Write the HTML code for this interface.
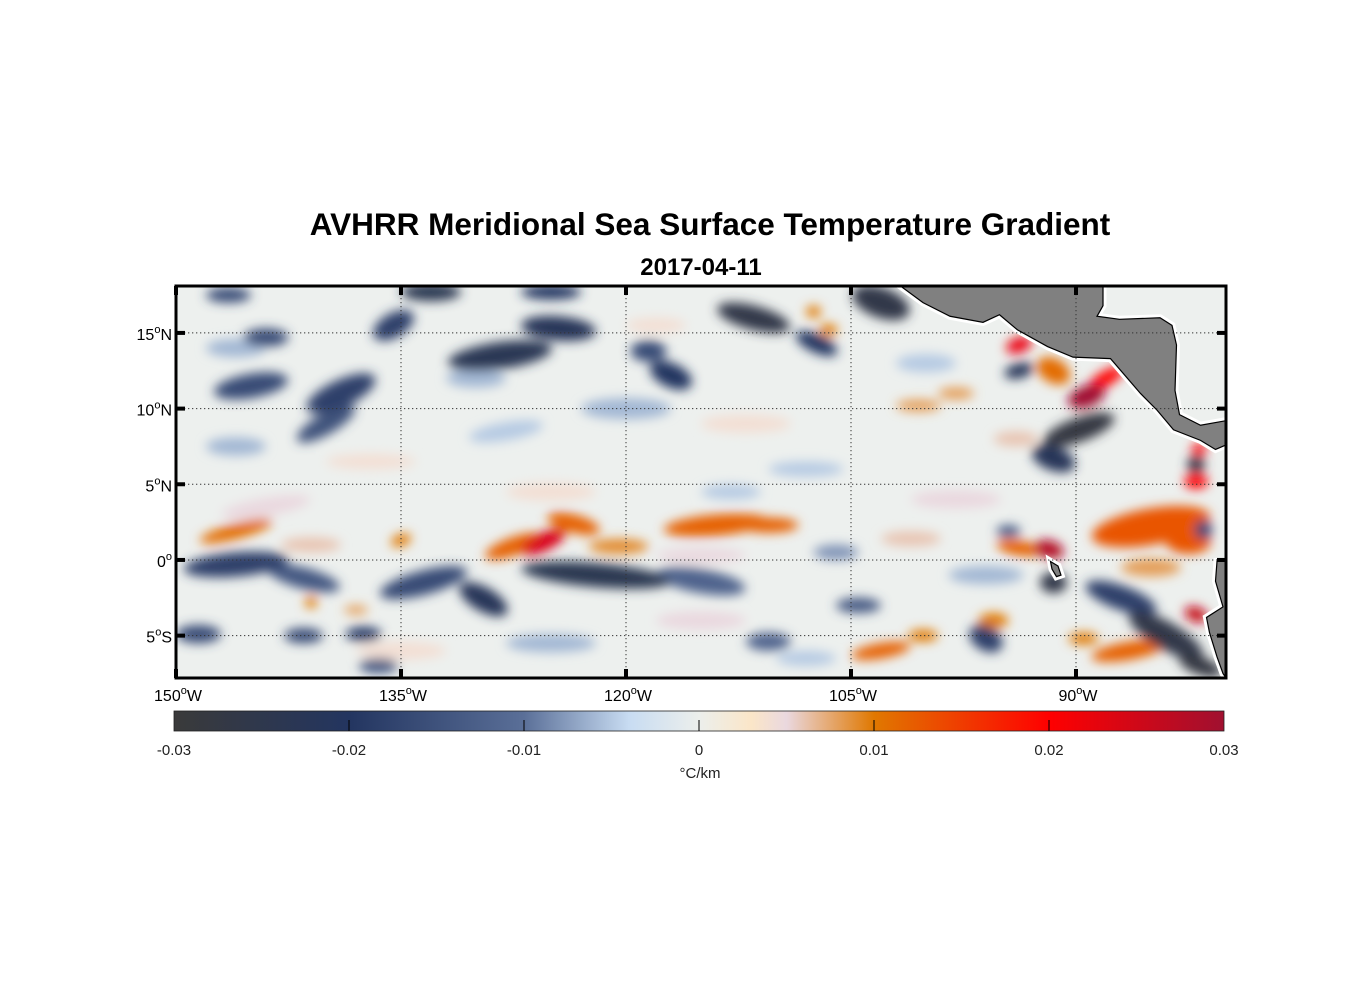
<!DOCTYPE html>
<html><head><meta charset="utf-8"><style>
body{margin:0;background:#fff;}
svg{display:block;font-family:"Liberation Sans",Arial,sans-serif;}
</style></head><body>
<svg id="chart" width="1356" height="1000" viewBox="0 0 1356 1000" xmlns="http://www.w3.org/2000/svg">
<defs>
<clipPath id="plotclip"><rect x="176" y="286" width="1050" height="392"/></clipPath>
<filter id="blur" x="-50%" y="-50%" width="200%" height="200%"><feGaussianBlur stdDeviation="5.5"/></filter>
<linearGradient id="cbgrad" x1="0" x2="1" y1="0" y2="0"></linearGradient>
</defs>
<text x="710" y="235" text-anchor="middle" font-size="31.5" font-weight="bold">AVHRR Meridional Sea Surface Temperature Gradient</text>
<text x="701" y="275" text-anchor="middle" font-size="24" font-weight="bold">2017-04-11</text>
<g id="plot" clip-path="url(#plotclip)">
<rect x="176" y="286" width="1050" height="392" fill="#edf0ee"/>
<g id="blobs" filter="url(#blur)"></g>
<g id="land"></g>
<g id="grid"></g>
</g>
<rect x="176" y="286" width="1050" height="392" fill="none" stroke="#000" stroke-width="3"/>
<g id="ticks"></g>
<g id="colorbar"></g>
</svg>
<script>
const NS="http://www.w3.org/2000/svg";
const lonMin=-150, lonMax=-80, latMin=-7.8, latMax=18.1;
const X0=176,X1=1226,Y0=286,Y1=678;
const lonTicks=[-150,-135,-120,-105,-90];
const lonTickLabels=["150","135","120","105","90"];
const latTicks=[15,10,5,0,-5];
const latTickLabels=["15","10","5","0","5"];
const latTickSuffix=["N","N","N","","S"];
// gradient features (lon, lat, value °C/km, half-size lon deg, half-size lat deg, tilt)
const blobLon=[-146,-137,-128,-120,-112,-108,-125,-113,-144,-135,-125,-115,-108,-98,-96,-100,-130,-118,-146,-85,-115,-106,
 -146,-141.5,-133.5,-129.5,-122,-115,-128.4,-139,-145,-140,-144,-135.5,-146.5,-133,-124.5,-117,-118.5,-111.5,-107.3,-103,-125,-89.8,-91.5,-93.8,-91.5,-84,-81.7,-82,-87,-96,-104.5,-94.5,-81.5,-110.5,-141.5,-137.5,-136.5,-148.5,
 -125.5,-127.5,-123.5,-120.5,-114,-110.5,-146,-141,-89.3,-88,-91.5,-93.8,-91.8,-93.8,-85,-82.5,-82,-81.8,-82,-86.5,-89.5,-103,-100.2,-95.5,-106.5,-107.5,-100.5,-98,-94,-101,-141,-138,-135];
const blobLat=[7.5,6.5,8.5,10,9,6,4.5,4.5,3.5,-6,-5.5,-4,-6.5,4,-1,13,12,15.5,14,-0.5,0.3,0.5,
 -0.3,-1.2,-1.5,-2.6,-1.0,-1.4,13.5,11.0,11.5,9.0,14.7,15.5,17.5,17.7,15.3,12.2,13.8,16.0,14.3,17.0,17.7,8.6,6.7,12.5,-1.5,-5.0,-7.0,6.3,-2.5,-5.2,-3,1.9,2.0,-5.4,-5,-4.9,-7.0,-4.9,
 1.2,0.9,2.4,0.9,2.3,2.3,1.9,1,10.8,12,12.5,14.2,0.7,0.8,2.2,1.2,5.2,7.3,-3.6,-6.0,-5.2,-6.0,-5,-4,15.2,16.4,10.2,11.0,8.0,1.4,-2.8,-3.3,1.3];
const blobVal=[-0.006,0.004,-0.005,-0.006,0.004,-0.005,0.004,-0.005,0.005,0.004,-0.006,0.005,-0.005,0.005,-0.006,-0.005,-0.006,0.004,-0.006,0.008,0.005,-0.008,
 -0.018,-0.014,-0.016,-0.022,-0.024,-0.012,-0.023,-0.018,-0.016,-0.015,-0.016,-0.018,-0.016,-0.024,-0.022,-0.02,-0.016,-0.026,-0.02,-0.026,-0.02,-0.028,-0.022,-0.022,-0.026,-0.026,-0.028,-0.026,-0.018,-0.018,-0.014,-0.014,-0.016,-0.012,-0.016,-0.018,-0.014,-0.016,
 0.024,0.012,0.012,0.009,0.012,0.012,0.011,0.006,0.03,0.02,0.011,0.022,0.028,0.012,0.013,0.013,0.02,0.02,0.026,0.012,0.01,0.012,0.01,0.01,0.01,0.01,0.008,0.008,0.006,0.006,0.01,0.008,0.01];
const blobRx=[2,3,2.5,3,3,2.5,3,2,3,3,3,3,2,3,2.5,2,2,2,2,2,3,1.5,
 3.5,2.5,3,1.8,5,3,3.5,2.5,2.5,2.2,1.5,1.5,1.5,2,2.5,1.5,1.2,2.5,1.5,2,2,2.5,1.5,1,0.9,2.8,1.5,0.6,2.5,1.2,1.5,0.8,0.6,1.5,1.3,1.2,1.3,1.5,
 1.6,2,1.8,2,3.5,2,2.5,2,1.3,1.3,1.2,0.9,1,1.5,4,1.5,0.8,0.5,0.8,2.5,1,2,1,1,0.6,0.5,1.5,1.2,1.5,2,0.4,0.8,0.7];
const blobRy=[0.6,0.5,0.6,0.7,0.6,0.5,0.6,0.5,0.6,0.6,0.6,0.6,0.5,0.6,0.6,0.6,0.6,0.5,0.6,0.6,0.5,0.5,
 0.8,0.7,0.8,0.8,0.8,0.8,0.9,0.9,0.8,0.7,0.6,0.8,0.5,0.6,0.8,0.8,0.7,0.8,0.6,1,0.5,0.8,0.8,0.5,0.7,0.9,0.6,0.6,0.8,0.8,0.5,0.4,0.6,0.6,0.5,0.5,0.5,0.6,
 0.6,0.6,0.6,0.5,0.7,0.5,0.5,0.5,0.7,0.5,0.8,0.5,0.6,0.5,1.2,0.8,0.5,0.4,0.5,0.6,0.4,0.5,0.4,0.5,0.4,0.4,0.4,0.4,0.5,0.5,0.4,0.3,0.4];
const blobTilt=[0,0,-10,0,0,0,0,0,-10,0,0,0,0,0,0,0,0,0,0,0,0,0,
 -5,15,-15,30,5,10,-8,-25,-10,-30,0,-30,0,0,5,25,0,15,25,20,0,-20,20,-15,0,30,20,0,20,30,0,0,0,0,0,0,0,0,
 -25,-20,15,0,-5,0,-15,0,-20,-30,30,-20,15,10,-10,0,0,0,20,-10,0,-10,0,0,0,0,0,0,0,0,0,0,-20];
const cmapVals=[-0.03,-0.02,-0.01,-0.004,0,0.003,0.005,0.01,0.02,0.03];
const cmapCols=["#3a3a3a","#233560","#5a6f98","#c8dcf2","#ecefec","#fbe6c8","#ead8df","#e07800","#ff0000","#a01030"];
const camLon=[-101.7,-100.2,-98.4,-96.2,-95.1,-93.9,-91.9,-90.2,-87.7,-85.7,-84.6,-83.5,-81.7,-80.7,-80,-80,-81.7,-83.1,-83.4,-83.3,-83.6,-84.4,-87.1,-88.6,-88.2,-88.2];
const camLat=[18.1,17.0,16.1,15.7,16.2,15.2,14.1,13.4,13.3,11.0,9.9,8.6,7.9,7.3,7.6,9.2,8.9,9.6,11.2,14.2,15.5,16.0,15.9,16.1,16.8,18.1];
const saLon=[-80,-80.6,-80.7,-80.2,-81.3,-81.1,-80.6,-80.2,-80];
const saLat=[-0.1,-0.1,-1.4,-3.1,-3.8,-4.8,-6.4,-7.5,-7.8];
const galLon=[-91.7,-91.2,-91.0,-91.3,-91.6];
const galLat=[-0.1,-0.4,-1.0,-1.1,-0.6];

const xS=lon=>X0+(lon-lonMin)/(lonMax-lonMin)*(X1-X0);
const yS=lat=>Y0+(latMax-lat)/(latMax-latMin)*(Y1-Y0);
const pxLon=(X1-X0)/(lonMax-lonMin), pxLat=(Y1-Y0)/(latMax-latMin);
function hex(c){return [1,3,5].map(i=>parseInt(c.substr(i,2),16));}
function cmap(v){
  v=Math.max(cmapVals[0],Math.min(cmapVals[cmapVals.length-1],v));
  for(let i=0;i<cmapVals.length-1;i++){
    if(v<=cmapVals[i+1]){const t=(v-cmapVals[i])/(cmapVals[i+1]-cmapVals[i]);
      const a=hex(cmapCols[i]),b=hex(cmapCols[i+1]);
      return "rgb("+a.map((x,k)=>Math.round(x+(b[k]-x)*t)).join(",")+")";}
  }
  return cmapCols[cmapCols.length-1];
}
const blobG=document.getElementById('blobs');
const order=blobVal.map((v,i)=>i).sort((a,b)=>Math.abs(blobVal[a])-Math.abs(blobVal[b]));
order.forEach(i=>{
  const cx=xS(blobLon[i]), cy=yS(blobLat[i]);
  const e=document.createElementNS(NS,'ellipse');
  
  
  e.setAttribute('cx',cx);e.setAttribute('cy',cy);
  e.setAttribute('rx',blobRx[i]*pxLon);e.setAttribute('ry',blobRy[i]*pxLat);
  e.setAttribute('transform','rotate('+blobTilt[i]+' '+cx+' '+cy+')');
  e.setAttribute('fill',cmap(blobVal[i]));
  blobG.appendChild(e);
});
const landG=document.getElementById('land');
function poly(lons,lats,name){
  const pts=lons.map((l,i)=>xS(l)+","+yS(lats[i])).join(" ");
  const w=document.createElementNS(NS,'polygon');
  w.setAttribute('points',pts);w.setAttribute('fill','none');w.setAttribute('stroke','#fff');w.setAttribute('stroke-width','7');
  landG.appendChild(w);
  const p=document.createElementNS(NS,'polygon');
  
  
  p.setAttribute('points',pts);p.setAttribute('fill','#808080');p.setAttribute('stroke','#000');p.setAttribute('stroke-width','1.2');
  landG.appendChild(p);
}
poly(camLon,camLat,'central-america-land');
poly(saLon.concat([-79,-79]),saLat.concat([-8,-0.1]),'south-america-land');
poly(galLon,galLat,'galapagos-land');
const gridG=document.getElementById('grid');
lonTicks.forEach(l=>{const ln=document.createElementNS(NS,'line');
  
  
  ln.setAttribute('x1',xS(l));ln.setAttribute('x2',xS(l));ln.setAttribute('y1',Y0);ln.setAttribute('y2',Y1);
  ln.setAttribute('stroke','#333');ln.setAttribute('stroke-dasharray','1.3 2.7');gridG.appendChild(ln);});
latTicks.forEach(l=>{const ln=document.createElementNS(NS,'line');
  
  
  ln.setAttribute('x1',X0);ln.setAttribute('x2',X1);ln.setAttribute('y1',yS(l));ln.setAttribute('y2',yS(l));
  ln.setAttribute('stroke','#333');ln.setAttribute('stroke-dasharray','1.3 2.7');gridG.appendChild(ln);});
const tG=document.getElementById('ticks');
function addLine(x1,y1,x2,y2,w,name){const ln=document.createElementNS(NS,'line');
  
  
  ln.setAttribute('x1',x1);ln.setAttribute('y1',y1);ln.setAttribute('x2',x2);ln.setAttribute('y2',y2);
  ln.setAttribute('stroke','#000');ln.setAttribute('stroke-width',w);tG.appendChild(ln);}
lonTicks.forEach((l,i)=>{const x=xS(l);
  addLine(x,Y0,x,Y0+9,4,'x-tick');addLine(x,Y1,x,Y1-9,4,'x-tick');
  const t=document.createElementNS(NS,'text');
  
  
  t.setAttribute('x',x+2);t.setAttribute('y',Y1+23);t.setAttribute('text-anchor','middle');t.setAttribute('font-size','16');
  t.innerHTML=lonTickLabels[i]+'<tspan font-size="11" dy="-7">o</tspan><tspan dy="7">W</tspan>';
  tG.appendChild(t);});
latTicks.forEach((l,i)=>{const y=yS(l);
  addLine(X0,y,X0+9,y,4,'y-tick');addLine(X1,y,X1-9,y,4,'y-tick');
  const t=document.createElementNS(NS,'text');
  
  
  t.setAttribute('x',X0-4);t.setAttribute('y',y+7);t.setAttribute('text-anchor','end');t.setAttribute('font-size','16');
  t.innerHTML=latTickLabels[i]+'<tspan font-size="11" dy="-7">o</tspan><tspan dy="7">'+latTickSuffix[i]+'</tspan>';
  tG.appendChild(t);});
const cbTicks=[-0.03,-0.02,-0.01,0,0.01,0.02,0.03];
const cbLabels=["-0.03","-0.02","-0.01","0","0.01","0.02","0.03"];
const CB0=174,CB1=1224,CBy=711,CBh=20;
const grad=document.getElementById('cbgrad');
cmapVals.forEach((v,i)=>{const s=document.createElementNS(NS,'stop');
  s.setAttribute('offset',(v-cmapVals[0])/(cmapVals[cmapVals.length-1]-cmapVals[0]));s.setAttribute('stop-color',cmapCols[i]);grad.appendChild(s);});
const cb=document.getElementById('colorbar');
const r=document.createElementNS(NS,'rect');


r.setAttribute('x',CB0);r.setAttribute('y',CBy);r.setAttribute('width',CB1-CB0);r.setAttribute('height',CBh);
r.setAttribute('fill','url(#cbgrad)');r.setAttribute('stroke','#222');r.setAttribute('stroke-width','0.8');cb.appendChild(r);
const cbX=v=>CB0+(v-cbTicks[0])/(cbTicks[cbTicks.length-1]-cbTicks[0])*(CB1-CB0);
cbTicks.forEach((v,i)=>{const x=cbX(v);
  if(i>0&&i<cbTicks.length-1){const ln=document.createElementNS(NS,'line');
    
    
    ln.setAttribute('x1',x);ln.setAttribute('x2',x);ln.setAttribute('y1',CBy+9);ln.setAttribute('y2',CBy+CBh);
    ln.setAttribute('stroke','#000');ln.setAttribute('stroke-width','1');cb.appendChild(ln);}
  const t=document.createElementNS(NS,'text');
  
  
  t.setAttribute('x',x);t.setAttribute('y',755);t.setAttribute('text-anchor','middle');t.setAttribute('font-size','15');t.setAttribute('fill','#222');
  t.textContent=cbLabels[i];cb.appendChild(t);});
const u=document.createElementNS(NS,'text');


u.setAttribute('x',700);u.setAttribute('y',778);u.setAttribute('text-anchor','middle');u.setAttribute('font-size','15');u.setAttribute('fill','#222');
u.textContent='°C/km';cb.appendChild(u);
</script>
</body></html>
